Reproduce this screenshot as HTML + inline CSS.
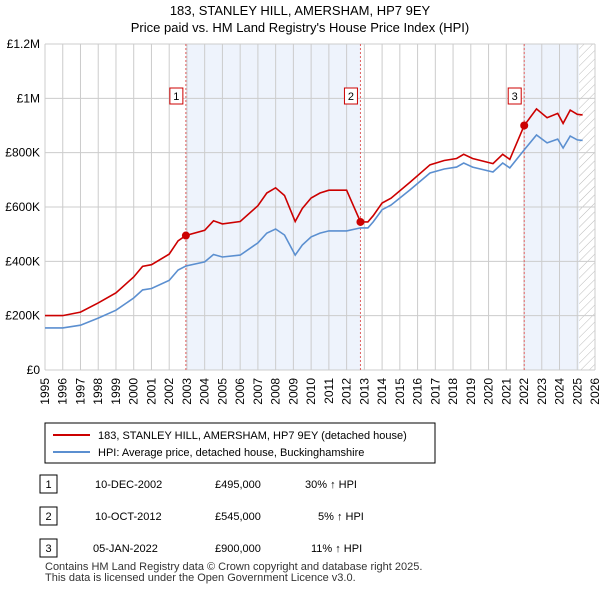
<!DOCTYPE html>
<html><head><meta charset="utf-8">
<style>
body{margin:0;background:#fff;font-family:"Liberation Sans",sans-serif;}
svg text{font-family:"Liberation Sans",sans-serif;}
</style></head>
<body>
<svg id="c" width="600" height="590" xmlns="http://www.w3.org/2000/svg">
<defs>
<pattern id="hatch" width="6" height="6" patternUnits="userSpaceOnUse" patternTransform="rotate(45)">
<line x1="0" y1="0" x2="0" y2="6" stroke="#bbb" stroke-width="1"/>
</pattern>
</defs>
<text x="300" y="15" text-anchor="middle" font-size="13" fill="#000">183, STANLEY HILL, AMERSHAM, HP7 9EY</text>
<text x="300" y="32" text-anchor="middle" font-size="13" fill="#000">Price paid vs. HM Land Registry's House Price Index (HPI)</text>
<g id="plot"></g>
<g>
<rect x="45" y="423" width="390" height="40" fill="#fff" stroke="#000" stroke-width="1"/>
<line x1="53" y1="435" x2="90" y2="435" stroke="#cc0000" stroke-width="2"/>
<text x="98" y="439" font-size="11">183, STANLEY HILL, AMERSHAM, HP7 9EY (detached house)</text>
<line x1="53" y1="452" x2="90" y2="452" stroke="#5b8fd0" stroke-width="2"/>
<text x="98" y="456" font-size="11">HPI: Average price, detached house, Buckinghamshire</text>
</g>
<g font-size="11">
<rect x="40" y="475" width="17" height="18" fill="#fff" stroke="#000"/><text x="48.5" y="488" text-anchor="middle">1</text>
<text x="95" y="488">10-DEC-2002</text><text x="215" y="488">£495,000</text><text x="305" y="488">30% ↑ HPI</text>
<rect x="40" y="507" width="17" height="18" fill="#fff" stroke="#000"/><text x="48.5" y="520" text-anchor="middle">2</text>
<text x="95" y="520">10-OCT-2012</text><text x="215" y="520">£545,000</text><text x="318" y="520">5% ↑ HPI</text>
<rect x="40" y="539" width="17" height="18" fill="#fff" stroke="#000"/><text x="48.5" y="552" text-anchor="middle">3</text>
<text x="93" y="552">05-JAN-2022</text><text x="215" y="552">£900,000</text><text x="311" y="552">11% ↑ HPI</text>
</g>
<text x="45" y="570" font-size="11" fill="#333">Contains HM Land Registry data © Crown copyright and database right 2025.</text>
<text x="45" y="581" font-size="11" fill="#333">This data is licensed under the Open Government Licence v3.0.</text>
</svg>
<script>
const hpiYears=[1995,1996,1997,1998,1999,2000,2000.5,2001,2002,2002.5,2002.94,2004,2004.5,2005,2006,2007,2007.5,2008,2008.5,2009.1,2009.5,2010,2010.5,2011,2012,2012.78,2013.2,2013.5,2014,2014.5,2015.57,2016.7,2017.5,2018.2,2018.6,2019.1,2020.25,2020.8,2021.2,2022.01,2022.7,2023.3,2023.9,2024.2,2024.6,2025,2025.3];
const hpiValues=[155,155,165,191,220,265,295,300,330,368,383,398,425,416,423,468,504,519,497,423,460,490,504,512,512,523,523,545,590,607,663,725,740,747,762,747,729,762,744,810,865,836,850,817,861,847,845];
const saleYears=[2002.94,2012.78,2022.01];
const salePrices=[495,545,900];
const saleLabels=["1","2","3"];
const yTicks=[0,200,400,600,800,1000,1200];
const yTickLabels=["£0","£200K","£400K","£600K","£800K","£1M","£1.2M"];
const xTicks=[];for(let y=1995;y<=2026;y++)xTicks.push(y);
const dataEnd=2025.1;

const X0=45,X1=595,Y0=370,Y1=44;
const xs=y=>X0+(y-1995)/(2026-1995)*(X1-X0);
const ys=v=>Y0-v/1200*(Y0-Y1);
const NS="http://www.w3.org/2000/svg";
const g=document.getElementById('plot');
function mk(t,a){const e=document.createElementNS(NS,t);for(const k in a)e.setAttribute(k,a[k]);g.appendChild(e);return e;}
function hpiAt(t){for(let i=0;i<hpiYears.length-1;i++){if(t>=hpiYears[i]&&t<=hpiYears[i+1]){const f=(t-hpiYears[i])/(hpiYears[i+1]-hpiYears[i]);return hpiValues[i]+f*(hpiValues[i+1]-hpiValues[i]);}}return hpiValues[hpiValues.length-1];}
let r=mk('rect',{x:xs(saleYears[0]),y:Y1,width:xs(saleYears[1])-xs(saleYears[0]),height:Y0-Y1,fill:'#eef3fc'});

r=mk('rect',{x:xs(saleYears[2]),y:Y1,width:xs(dataEnd)-xs(saleYears[2]),height:Y0-Y1,fill:'#eef3fc'});

r=mk('rect',{x:xs(dataEnd),y:Y1,width:X1-xs(dataEnd),height:Y0-Y1,fill:'url(#hatch)'});

xTicks.forEach(t=>{const l=mk('line',{x1:xs(t),x2:xs(t),y1:Y1,y2:Y0,stroke:'#ccc','stroke-width':1});

const tx=mk('text',{x:0,y:0,'text-anchor':'end','font-size':12,transform:'translate('+(xs(t)+4)+','+(Y0+8)+') rotate(-90)'});tx.textContent=t;
});
yTicks.forEach((t,i)=>{const l=mk('line',{x1:X0,x2:X1,y1:ys(t),y2:ys(t),stroke:'#ccc','stroke-width':1});

const tx=mk('text',{x:X0-5,y:ys(t)+4,'text-anchor':'end','font-size':12});tx.textContent=yTickLabels[i];
});
saleYears.forEach((s,i)=>{const l=mk('line',{x1:xs(s),x2:xs(s),y1:Y1,y2:Y0,stroke:'#e06060','stroke-width':1,'stroke-dasharray':'2,2'});

const bx=mk('rect',{x:xs(s)-16,y:88,width:13,height:16,fill:'#fff',stroke:'#cc0000'});

const tx=mk('text',{x:xs(s)-9.5,y:100,'text-anchor':'middle','font-size':11});tx.textContent=saleLabels[i];
});
const hp=hpiYears.map((y,i)=>xs(y).toFixed(1)+','+ys(hpiValues[i]).toFixed(1)).join(' ');
const hl=mk('polyline',{points:hp,fill:'none',stroke:'#5b8fd0','stroke-width':1.6});

function factor(t){let k=0;for(let i=0;i<saleYears.length;i++)if(t>=saleYears[i])k=i;return salePrices[k]/hpiAt(saleYears[k]);}
const pts=[];
hpiYears.forEach((y,i)=>{
  saleYears.forEach((s,j)=>{if(j>0&&y>s&&(i===0||hpiYears[i-1]<s)){pts.push([s,hpiAt(s)*salePrices[j-1]/hpiAt(saleYears[j-1])]);pts.push([s,salePrices[j]]);}});
  pts.push([y,hpiValues[i]*factor(y)]);});
const pl=mk('polyline',{points:pts.map(p=>xs(p[0]).toFixed(1)+','+ys(p[1]).toFixed(1)).join(' '),fill:'none',stroke:'#cc0000','stroke-width':1.6});

saleYears.forEach((s,i)=>{const d=mk('circle',{cx:xs(s),cy:ys(salePrices[i]),r:4,fill:'#cc0000'});
});
</script>
</body></html>
